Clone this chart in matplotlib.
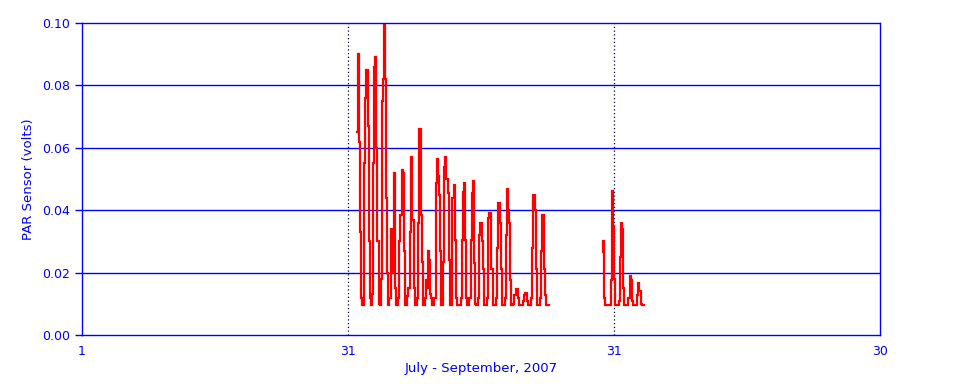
import numpy as np
import matplotlib
matplotlib.use("Agg")
import matplotlib.pyplot as plt

# time axis: days since July 1, 2007 00:00; samples every 3 hours
step = 0.125
b = 0.0095  # night-time baseline

# first run: starts Jul 31 (day 31) at 09h, one row per day (00h..21h)
start1 = 31 + 3 * step
par1 = [
    0.065, 0.090, 0.062, 0.033, 0.012,                      # day 31 (from 09h)
    b, b, 0.055, 0.076, 0.085, 0.067, 0.030, 0.012,          # 32
    b, 0.013, 0.055, 0.086, 0.089, 0.060, 0.030, 0.010,      # 33
    b, 0.018, 0.075, 0.082, 0.100, 0.082, 0.044, 0.020,      # 34
    b, 0.012, 0.034, 0.020, 0.025, 0.052, 0.015, b,          # 35
    b, 0.012, 0.030, 0.0385, 0.053, 0.052, 0.027, b,         # 36
    b, 0.0125, 0.015, 0.015, 0.033, 0.057, 0.037, 0.015,     # 37
    b, b, 0.012, 0.036, 0.066, 0.066, 0.0385, 0.0235,        # 38
    b, 0.012, 0.0176, 0.015, 0.027, 0.024, 0.013, 0.012,     # 39
    b, b, 0.012, 0.0487, 0.0564, 0.051, 0.045, 0.027,        # 40
    b, b, 0.0234, 0.054, 0.057, 0.050, 0.0455, 0.024,        # 41
    b, b, 0.044, 0.044, 0.048, 0.0305, 0.012, b,             # 42
    b, b, 0.012, 0.0305, 0.0458, 0.0487, 0.0305, 0.012,      # 43
    b, b, 0.012, 0.0305, 0.0455, 0.0495, 0.023, 0.010,       # 44
    b, b, 0.012, 0.032, 0.036, 0.030, 0.021, b,              # 45
    b, b, 0.012, 0.0375, 0.039, 0.039, 0.021, b,             # 46
    b, b, 0.012, 0.028, 0.0423, 0.0423, 0.036, 0.021,        # 47
    b, b, 0.012, 0.032, 0.0468, 0.040, 0.036, 0.0176,        # 48
    b, b, 0.010, 0.0128, 0.0147, 0.0147, 0.012, b,           # 49
    b, b, b, 0.011, 0.0128, 0.0135, 0.011, b,                # 50
    b, b, 0.012, 0.028, 0.0449, 0.0449, 0.040, 0.021,        # 51
    b, b, 0.012, 0.027, 0.0385, 0.0385, 0.021, 0.0128,       # 52
    b, b, b,                                                 # 53
]

# second run: starts day 59 at 09h
start2 = 59 + 3 * step
par2 = [
    0.0266, 0.030, 0.012, b, b,                              # 59 (from 09h)
    b, b, b, 0.0176, 0.046, 0.035, 0.018, b,                 # 60
    b, b, 0.011, 0.025, 0.036, 0.034, 0.015, b,              # 61
    b, b, b, 0.012, 0.019, 0.0176, 0.011, b,                 # 62
    b, b, b, 0.0128, 0.0167, 0.014, 0.010, b,                # 63
    b, b,                                                    # 64
]

tick_labels = ["1", "31", "31", "30"]
yticks = [0.00, 0.02, 0.04, 0.06, 0.08, 0.10]

t1 = start1 + step * np.arange(len(par1))
t2 = start2 + step * np.arange(len(par2))

blue = "#0000ff"
fig = plt.figure(figsize=(9.6, 3.84), dpi=100)
ax = fig.add_axes([0.0854, 0.1276, 0.8313, 0.8125])

for t, v in ((t1, par1), (t2, par2)):
    ax.plot(t, v, color="red", linewidth=1.6, drawstyle="steps-mid",
            solid_joinstyle="miter")

xt = np.linspace(0, 91, 4)
ax.set_xlim(0, 91)
ax.set_ylim(0, 0.10)
ax.set_xticks(xt)
ax.set_xticklabels(tick_labels)
ax.set_yticks(yticks)
ax.set_yticklabels([f"{v:.2f}" for v in yticks])

for y in yticks[1:-1]:
    ax.axhline(y, color=blue, linewidth=1.0, zorder=0)
for x in xt[1:-1]:
    ax.axvline(x, color="#000040", linewidth=0.9, linestyle=(0, (1, 2)), zorder=0)

for s in ax.spines.values():
    s.set_color(blue)
    s.set_linewidth(1.0)
ax.tick_params(axis="x", length=0, pad=7, colors=blue, labelsize=9)
ax.tick_params(axis="y", length=5, width=1, colors=blue, labelsize=9)

ax.set_xlabel("July - September, 2007", color=blue, fontsize=9.5, labelpad=3)
ax.set_ylabel("PAR Sensor (volts)", color=blue, fontsize=9.5, labelpad=5)

fig.savefig("out.png", dpi=100)
